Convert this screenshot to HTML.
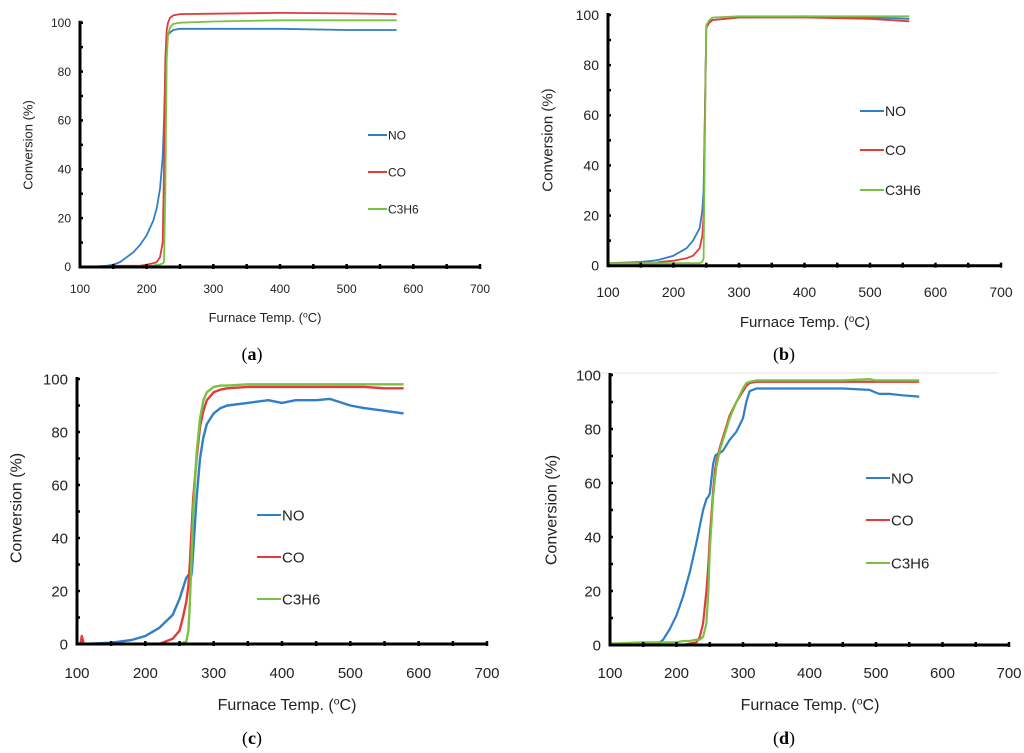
<!DOCTYPE html>
<html><head><meta charset="utf-8"><style>
body{margin:0;background:#fff;}
svg{display:block;font-family:"Liberation Sans",sans-serif;}
</style></head><body>
<svg id="fig" width="1024" height="753" viewBox="0 0 1024 753" xmlns="http://www.w3.org/2000/svg">
<line x1="590" y1="373" x2="998" y2="373" stroke="#e4e4e4" stroke-width="1"/>
</svg>
<script>
// ---- Panel (a) data ----
const tempsA=[100,120,140,150,160,170,180,190,200,210,215,220,224,226,228,230,232,235,240,250,300,400,500,575];
const noA=[0,0.2,0.5,1,2,4,6,9,13,19,24,32,45,60,80,92,95,96,97,97.5,97.5,97.5,97,97];
const coA=[0,0,0.3,0.5,0.5,0.5,0.5,0.5,1,1.5,2,4,10,40,85,97,100,102,103,103.5,103.7,104,103.8,103.5];
const c3h6A=[0,0,0,0,0,0,0,0,0.5,0.5,1,1,1.5,2,30,85,95,98,99.5,100,100.5,101,101,101];
// ---- Panel (b) data ----
const tempsB=[100,150,170,180,200,220,230,240,244,246,248,250,255,260,300,400,500,560];
const noB=[1,1.5,2,2.5,4,7,10,15,22,30,60,95,97.5,98,99,99.5,99,98.5];
const coB=[1,1,1,1.5,2,3,4,7,12,20,60,95,97,98,99,99,98.5,97.5];
const c3h6B=[1,1,1,1,1,1,1,1,1.5,3,50,96,98,99,99.5,99.5,99.5,99.5];
// ---- Panel (c) data ----
const tempsC=[100,105,107,110,150,180,200,220,240,250,255,260,263,265,268,270,275,280,285,290,300,310,320,350,380,400,420,450,470,500,520,550,578];
const noC=[0,0,0,0,0.5,1.5,3,6,11,17,21,25,26,23,27,35,55,70,78,83,87,89,90,91,92,91,92,92,92.5,90,89,88,87];
const coC=[0,0,3,0,0,0,0,0,2,5,10,16,22,30,45,55,70,82,88,92,95,96,96.5,97,97,97,97,97,97,97,97,96.5,96.5];
const c3h6C=[0,0,0,0,0,0,0,0,0,0,0.5,1,5,15,35,50,72,85,92,95,97,97.5,97.5,98,98,98,98,98,98,98,98,98,98];
// ---- Panel (d) data ----
const tempsD=[100,150,175,180,190,200,210,220,230,235,240,245,248,250,255,258,260,265,270,275,280,290,300,305,310,320,350,400,450,490,500,505,520,540,565];
const noD=[0,0.5,1,2,6,11,18,27,38,44,50,54,55,56,67,70,70.5,71,72,74,76,79,84,90,94,95,95,95,95,94.5,93.5,93,93,92.5,92];
const coD=[0,0,0,0,0,0,0,0.5,1,3,8,20,30,40,57,65,68,73,77,81,85,90,94,96,97,97.5,97.5,97.5,97.5,97.5,97.5,97.5,97.5,97.5,97.5];
const c3h6D=[0.5,1,1,1,1,1,1.5,1.5,2,2,3,8,20,35,55,62,66,72,76,80,84,90,95,97,97.5,98,98,98,98,98.5,98,98,98,98,98];
// ---- axis tick labels ----
const xTicks=[100,200,300,400,500,600,700];
const yTicks=[0,20,40,60,80,100];
const seriesNames=["NO","CO","C3H6"];

const NS="http://www.w3.org/2000/svg";
const svg=document.getElementById('fig');
const colors=["#2f7fc8","#e23b3b","#79c143"];
function mk(tag,attrs,parent){const e=document.createElementNS(NS,tag);for(const k in attrs)e.setAttribute(k,attrs[k]);(parent||svg).appendChild(e);return e;}

const panels=[
 {id:'a',temps:tempsA,s:[noA,coA,c3h6A],x0:80,x1:480,y0:267,y100:22.7,tick:12,title:13,xl:293,tx:265,ty:322,cap:252,capy:360,ytx:28,yty:145,lx:368,ly:[135,172,209],lf:12,lw:1.8},
 {id:'b',temps:tempsB,s:[noB,coB,c3h6B],x0:608,x1:1001,y0:265.7,y100:15,tick:14,title:15,xl:297,tx:805,ty:327,cap:784,capy:360,ytx:547,yty:140,lx:860,ly:[111,150,190],lf:14,lw:1.8},
 {id:'c',temps:tempsC,s:[noC,coC,c3h6C],x0:77,x1:487,y0:644,y100:379,tick:15,title:16,xl:678,tx:287,ty:710,cap:252,capy:744,ytx:16,yty:508,lx:257,ly:[515,557,599],lf:15,lw:2.4},
 {id:'d',temps:tempsD,s:[noD,coD,c3h6D],x0:610,x1:1009,y0:645,y100:375,tick:15,title:16,xl:678,tx:810,ty:710,cap:784,capy:744,ytx:551,yty:510,lx:866,ly:[478,520,563],lf:15,lw:2.2}
];

panels.forEach(p=>{
 const g=mk('g',{});
 
 
 const X=v=>p.x0+(v-100)/600*(p.x1-p.x0);
 const Y=v=>p.y0+(p.y100-p.y0)*v/100;
 p.s.forEach((arr,i)=>{
  const d=arr.map((v,j)=>(j?'L':'M')+X(p.temps[j]).toFixed(1)+' '+Y(v).toFixed(1)).join(' ');
  const path=mk('path',{d:d,fill:'none',stroke:colors[i],'stroke-width':p.lw,'stroke-linejoin':'round'},g);
  
  
 });
 const ax=mk('line',{x1:X(100),y1:Y(0),x2:X(700),y2:Y(0),stroke:'#000','stroke-width':3},g);
 
 
 const ay=mk('line',{x1:X(100),y1:Y(0)+1.5,x2:X(100),y2:Y(100)-2,stroke:'#000','stroke-width':3},g);
 
 
 for(let v=150;v<=700;v+=50){mk('line',{x1:X(v),y1:Y(0)-3,x2:X(v),y2:Y(0)+2,stroke:'#000','stroke-width':2.5},g);}
 for(let v=10;v<=100;v+=10){mk('line',{x1:X(100)-1,y1:Y(v),x2:X(100)+3,y2:Y(v),stroke:'#000','stroke-width':2.5},g);}
 xTicks.forEach(v=>{const t=mk('text',{x:X(v),y:p.xl,'font-size':p.tick,'text-anchor':'middle',fill:'#222'},g);t.textContent=v;
  
  });
 yTicks.forEach(v=>{const t=mk('text',{x:X(100)-9,y:Y(v)+p.tick*0.35,'font-size':p.tick,'text-anchor':'end',fill:'#222'},g);t.textContent=v;
  
  });
 const xt=mk('text',{x:p.tx,y:p.ty,'font-size':p.title,'text-anchor':'middle',fill:'#222'},g);
 xt.innerHTML='Furnace Temp. (<tspan font-size="'+(p.title*0.65)+'" dy="-'+(p.title*0.35)+'">o</tspan><tspan dy="'+(p.title*0.35)+'">C)</tspan>';
 
 
 const yt=mk('text',{x:0,y:0,'font-size':p.title,'text-anchor':'middle',fill:'#222',transform:'translate('+(p.ytx+p.title*0.35)+','+p.yty+') rotate(-90)'},g);
 yt.textContent='Conversion (%)';
 
 
 const cap=mk('text',{x:p.cap,y:p.capy,'font-size':18,'text-anchor':'middle',fill:'#000','font-family':'Liberation Serif, serif'},g);
 cap.innerHTML='(<tspan font-weight="bold">'+p.id+'</tspan>)';
 
 
 seriesNames.forEach((n,i)=>{
  const lg=mk('g',{},g);
  
  
  mk('line',{x1:p.lx,y1:p.ly[i],x2:p.lx+(p.id==='a'?19:24),y2:p.ly[i],stroke:colors[i],'stroke-width':2},lg);
  const t=mk('text',{x:p.lx+(p.id==='a'?20:25),y:p.ly[i]+p.lf*0.36,'font-size':p.lf,fill:'#222'},lg);
  t.textContent=n;
 });
});
</script>
</body></html>
